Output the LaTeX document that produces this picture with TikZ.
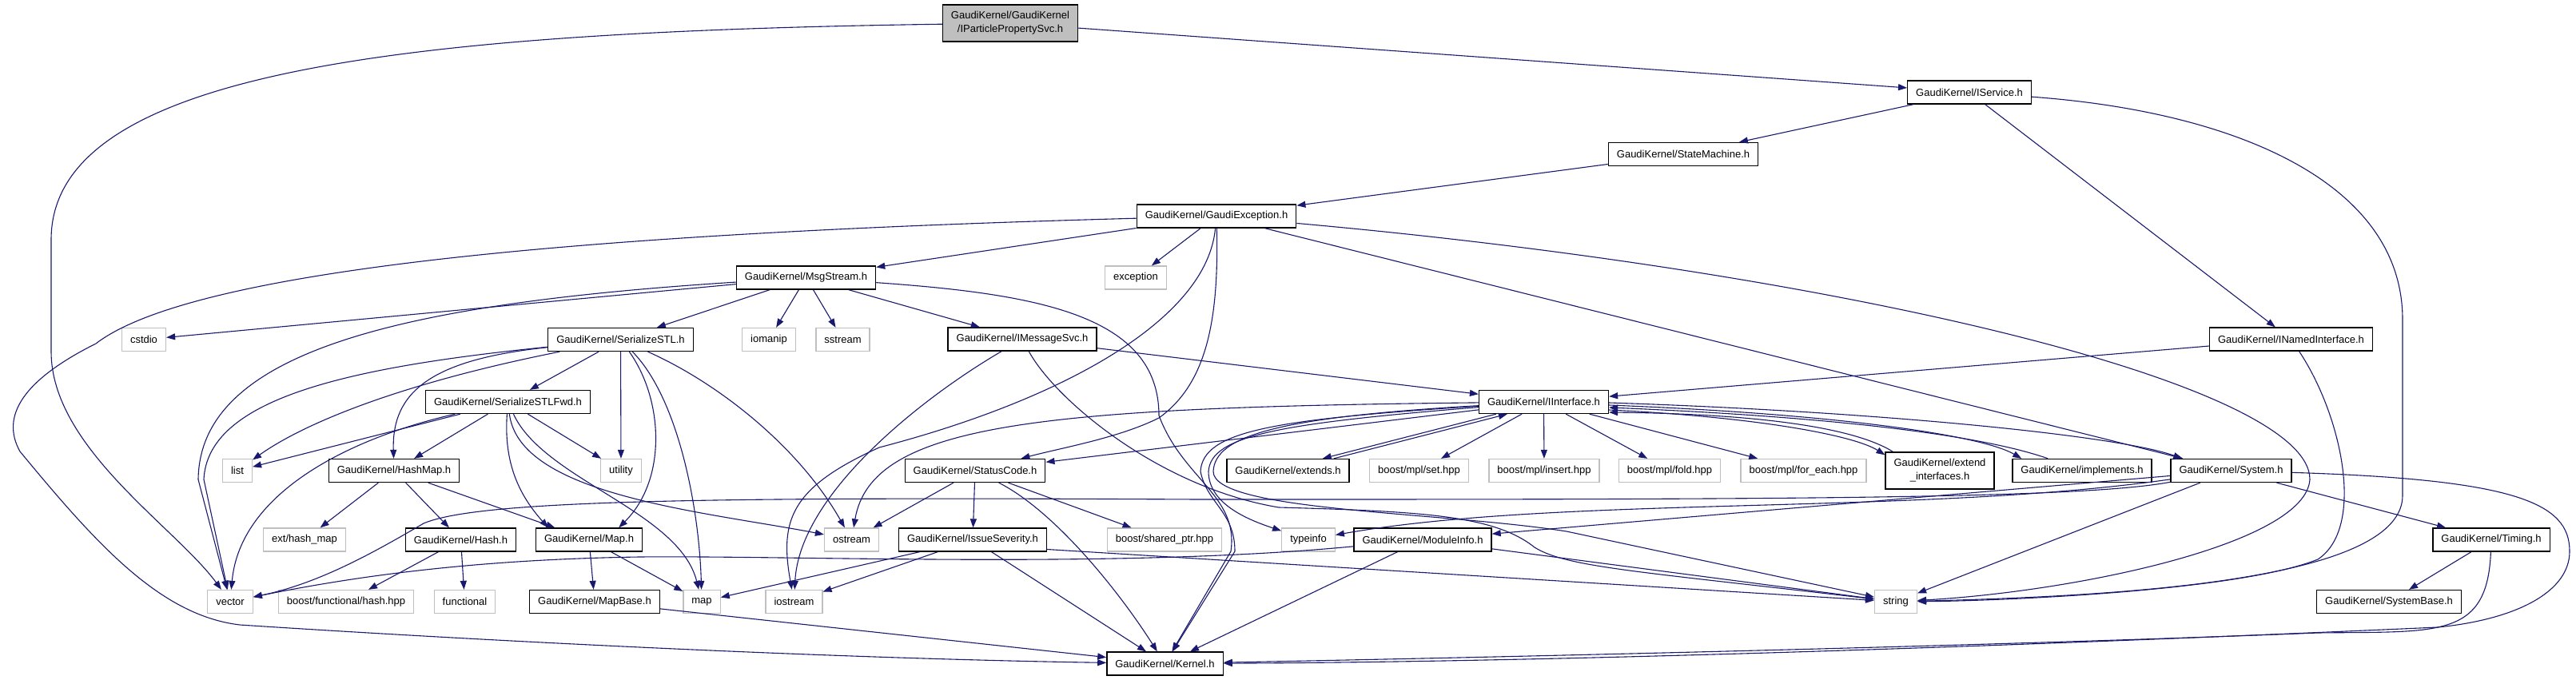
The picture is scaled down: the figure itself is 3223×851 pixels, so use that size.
\documentclass[tikz,border=0pt]{standalone}
\usepackage{fontspec}
\setmainfont{Liberation Sans}
\usetikzlibrary{arrows.meta}
\definecolor{midnightblue}{HTML}{191970}
\definecolor{grey75}{HTML}{BFBFBF}
\tikzset{
  hfile/.style={draw=black, fill=white, line width=1.3pt, inner xsep=10.5pt, inner ysep=2pt,
    minimum height=29pt, align=center, font=\fontsize{13}{17}\selectfont},
  sysfile/.style={hfile, draw=grey75},
  rootfile/.style={hfile, fill=grey75, minimum height=46pt},
  dep/.style={draw=midnightblue, line width=1.1pt, -{Triangle[length=11pt,width=8pt]}}
}
\begin{document}
\begin{tikzpicture}[x=1pt,y=-1pt]
    %% page
    \fill[white] (0,0) rectangle (3223,851);
    \useasboundingbox (0,0) rectangle (3223,851);
    %% header files, row by row
    \node[rootfile] (ipps) at (1264,29) {GaudiKernel/GaudiKernel\\/IParticlePropertySvc.h};
    \node[hfile] (iservice) at (2464,115.5) {GaudiKernel/IService.h};
    \node[hfile] (statemachine) at (2106,193) {GaudiKernel/StateMachine.h};
    \node[hfile] (gexc) at (1522,270.5) {GaudiKernel/GaudiException.h};
    \node[hfile] (msgstream) at (1008.5,347.5) {GaudiKernel/MsgStream.h};
    \node[sysfile] (exception) at (1421,347.5) {exception};
    \node[sysfile] (cstdio) at (180,425) {cstdio};
    \node[hfile] (serstl) at (776.5,425) {GaudiKernel/SerializeSTL.h};
    \node[sysfile] (iomanip) at (962,425) {iomanip};
    \node[sysfile] (sstream) at (1054.5,425) {sstream};
    \node[hfile] (imsgsvc) at (1279,424.5) {GaudiKernel/IMessageSvc.h};
    \node[hfile] (inamed) at (2866.5,424.5) {GaudiKernel/INamedInterface.h};
    \node[hfile] (serfwd) at (635.5,503) {GaudiKernel/SerializeSTLFwd.h};
    \node[hfile] (iiface) at (1931.5,503) {GaudiKernel/IInterface.h};
    %% row 5
    \node[sysfile] (list) at (297,589) {list};
    \node[hfile] (hashmap) at (493,589) {GaudiKernel/HashMap.h};
    \node[sysfile] (utility) at (777,589) {utility};
    \node[hfile] (statuscode) at (1220,589) {GaudiKernel/StatusCode.h};
    \node[hfile] (extends) at (1611.5,589) {GaudiKernel/extends.h};
    \node[sysfile] (mplset) at (1775.5,589) {boost/mpl/set.hpp};
    \node[sysfile] (mplinsert) at (1932,589) {boost/mpl/insert.hpp};
    \node[sysfile] (mplfold) at (2089,589) {boost/mpl/fold.hpp};
    \node[sysfile] (mplforeach) at (2256.5,589) {boost/mpl/for\_each.hpp};
    \node[hfile,minimum height=46pt] (extiface) at (2427,589) {GaudiKernel/extend\\\_interfaces.h};
    \node[hfile] (implements) at (2605,589) {GaudiKernel/implements.h};
    \node[hfile] (system) at (2791.5,589) {GaudiKernel/System.h};
    %% row 6
    \node[sysfile] (exthashmap) at (381,675.5) {ext/hash\_map};
    \node[hfile] (hash) at (576.5,675.5) {GaudiKernel/Hash.h};
    \node[hfile] (gkmap) at (737,675.5) {GaudiKernel/Map.h};
    \node[sysfile] (ostream) at (1065.5,675.5) {ostream};
    \node[hfile] (severity) at (1217,675.5) {GaudiKernel/IssueSeverity.h};
    \node[sysfile] (sharedptr) at (1457,675.5) {boost/shared\_ptr.hpp};
    \node[sysfile] (typeinfo) at (1637,675.5) {typeinfo};
    \node[hfile] (moduleinfo) at (1780,675.5) {GaudiKernel/ModuleInfo.h};
    \node[hfile] (timing) at (3117,675.5) {GaudiKernel/Timing.h};
    %% row 7
    \node[sysfile] (stdvector) at (288,753) {vector};
    \node[sysfile] (hashhpp) at (433,753) {boost/functional/hash.hpp};
    \node[sysfile] (functional) at (581.5,753) {functional};
    \node[hfile] (mapbase) at (744,753) {GaudiKernel/MapBase.h};
    \node[sysfile] (stdmap) at (878,753) {map};
    \node[sysfile] (iostream) at (993.5,753) {iostream};
    \node[sysfile] (stdstring) at (2372,753) {string};
    \node[hfile] (systembase) at (2989,753) {GaudiKernel/SystemBase.h};
    \node[hfile] (kernel) at (1457.5,830.5) {GaudiKernel/Kernel.h};

    %% root file
    \draw[dep] (ipps) -- (iservice);
    \draw[dep] (ipps) .. controls (500,40) and (64,90) .. (64,300) -- (64,440) .. controls (64,560) and (220,660) .. (stdvector);
    %% IService
    \draw[dep] (iservice) -- (statemachine);
    \draw[dep] (iservice) -- (inamed);
    \draw[dep] (iservice) .. controls (2800,140) and (3006,230) .. (3006,400) -- (3006,620) .. controls (3006,720) and (2700,745) .. (stdstring);
    %% StateMachine
    \draw[dep] (statemachine) -- (gexc);
    %% GaudiException
    \draw[dep] (gexc) -- (msgstream);
    \draw[dep] (gexc) -- (exception);
    \draw[dep] (gexc) .. controls (1525,400) and (1510,480) .. (1450,523) .. controls (1400,548) and (1330,560) .. (statuscode);
    \draw[dep] (gexc) .. controls (1510,400) and (1330,500) .. (1100,560) .. controls (990,610) and (975,650) .. (iostream);
    \draw[dep] (gexc) .. controls (800,290) and (250,330) .. (120,430) .. controls (30,475) and (0,520) .. (25,565) .. controls (120,680) and (200,770) .. (300,782) .. controls (700,808) and (1100,825) .. (kernel);
    \draw[dep] (gexc) -- (system);
    \draw[dep] (gexc) .. controls (2300,340) and (2890,480) .. (2890,600) .. controls (2885,680) and (2600,740) .. (stdstring);
    %% MsgStream
    \draw[dep] (msgstream) -- (cstdio);
    \draw[dep] (msgstream) .. controls (500,380) and (250,440) .. (248,600) -- (stdvector);
    \draw[dep] (msgstream) -- (serstl);
    \draw[dep] (msgstream) -- (iomanip);
    \draw[dep] (msgstream) -- (sstream);
    \draw[dep] (msgstream) -- (imsgsvc);
    \draw[dep] (msgstream) .. controls (1300,368) and (1450,395) .. (1450,520) .. controls (1480,600) and (1550,620) .. (1540,690) -- (kernel);
    %% IMessageSvc
    \draw[dep] (imsgsvc) -- (iiface);
    \draw[dep] (imsgsvc) .. controls (1150,500) and (1000,620) .. (iostream);
    \draw[dep] (imsgsvc) .. controls (1320,500) and (1450,610) .. (1600,635) .. controls (1780,640) and (1870,645) .. (1920,685) .. controls (1960,710) and (2050,715) .. (stdstring);
    %% SerializeSTL
    \draw[dep] (serstl) .. controls (430,460) and (260,500) .. (255,600) -- (stdvector);
    \draw[dep] (serstl) .. controls (500,480) and (380,530) .. (list);
    \draw[dep] (serstl) -- (serfwd);
    \draw[dep] (serstl) .. controls (540,450) and (490,490) .. (hashmap);
    \draw[dep] (serstl) -- (utility);
    \draw[dep] (serstl) .. controls (830,500) and (835,600) .. ([xshift=-30pt]gkmap.north east);
    \draw[dep] (serstl) .. controls (850,500) and (875,640) .. (stdmap);
    \draw[dep] (serstl) .. controls (900,480) and (1000,560) .. (ostream);
    %% SerializeSTLFwd
    \draw[dep] (serfwd) -- (list);
    \draw[dep] (serfwd) .. controls (430,550) and (300,620) .. (stdvector);
    \draw[dep] (serfwd) -- (hashmap);
    \draw[dep] (serfwd) .. controls (630,580) and (650,620) .. ([xshift=16pt]gkmap.north west);
    \draw[dep] (serfwd) .. controls (680,600) and (850,640) .. (stdmap);
    \draw[dep] (serfwd) .. controls (650,620) and (880,640) .. (ostream);
    \draw[dep] (serfwd) -- (utility);
    %% HashMap, Hash, Map, MapBase
    \draw[dep] (hashmap) -- (exthashmap);
    \draw[dep] (hashmap) -- (hash);
    \draw[dep] (hashmap) -- (gkmap);
    \draw[dep] (hash) -- (hashhpp);
    \draw[dep] (hash) -- (functional);
    \draw[dep] (gkmap) -- (mapbase);
    \draw[dep] (gkmap) -- (stdmap);
    \draw[dep] (mapbase) -- (kernel);
    %% IInterface
    \draw[dep] (iiface) .. controls (1300,510) and (1090,530) .. (ostream);
    \draw[dep] (iiface) -- (statuscode);
    \draw[dep] ([xshift=22pt]iiface.south west) -- ([xshift=-34pt]extends.north east);
    \draw[dep] (iiface) -- (mplset);
    \draw[dep] (iiface) -- (mplinsert);
    \draw[dep] (iiface) -- (mplfold);
    \draw[dep] (iiface) -- (mplforeach);
    \draw[dep] ([yshift=-10pt]iiface.east) .. controls (2200,522) and (2320,545) .. ([yshift=-4pt]extiface.north west);
    \draw[dep] ([yshift=-4pt]iiface.east) .. controls (2300,518) and (2480,545) .. ([xshift=12pt]implements.north west);
    \draw[dep] ([yshift=-1pt]iiface.east) .. controls (2350,515) and (2650,545) .. ([xshift=15pt]system.north west);
    \draw[dep] (iiface) .. controls (1600,530) and (1515,545) .. (1512,590) .. controls (1512,630) and (1560,650) .. (typeinfo);
    \draw[dep] (iiface) .. controls (1590,525) and (1505,540) .. (1502,590) .. controls (1510,630) and (1545,640) .. (1545,690) -- (kernel);
    \draw[dep] (iiface) .. controls (1600,522) and (1520,545) .. (1518,590) .. controls (1518,640) and (1800,640) .. (1960,665) -- (stdstring);
    %% back to IInterface
    \draw[dep] ([xshift=-20pt]extends.north east) -- ([xshift=36pt]iiface.south west);
    \draw[dep] ([xshift=10pt]extiface.north west) .. controls (2320,535) and (2200,518) .. ([yshift=-13pt]iiface.east);
    \draw[dep] ([xshift=45pt]implements.north west) .. controls (2480,545) and (2300,522) .. ([yshift=-7pt]iiface.east);
    %% StatusCode
    \draw[dep] (statuscode) -- (ostream);
    \draw[dep] (statuscode) -- (severity);
    \draw[dep] (statuscode) -- (sharedptr);
    \draw[dep] (statuscode) .. controls (1320,640) and (1400,740) .. (kernel);
    %% IssueSeverity
    \draw[dep] (severity) -- (stdmap);
    \draw[dep] (severity) -- (iostream);
    \draw[dep] (severity) -- (kernel);
    \draw[dep] ([yshift=-12pt]severity.east) -- (stdstring);
    %% ModuleInfo
    \draw[dep] (moduleinfo) .. controls (1400,712) and (1000,695) .. (800,697) .. controls (600,700) and (450,720) .. (stdvector);
    \draw[dep] (moduleinfo) -- (kernel);
    \draw[dep] (moduleinfo) -- (stdstring);
    %% System
    \draw[dep] (system) .. controls (2600,625) and (2200,625) .. (1500,625) .. controls (900,622) and (600,625) .. (530,655) .. controls (470,690) and (400,730) .. (stdvector);
    \draw[dep] (system) .. controls (2400,645) and (1950,620) .. (typeinfo);
    \draw[dep] (system) -- (moduleinfo);
    \draw[dep] (system) -- (stdstring);
    \draw[dep] (system) -- (timing);
    \draw[dep] (system) .. controls (3150,600) and (3215,630) .. (3215,690) .. controls (3215,740) and (3150,775) .. (3050,785) .. controls (2600,805) and (2000,828) .. (kernel);
    %% Timing
    \draw[dep] (timing) -- (systembase);
    \draw[dep] (timing) .. controls (3112,800) and (3050,790) .. (2900,792) .. controls (2500,808) and (1900,822) .. (kernel);
    %% INamedInterface
    \draw[dep] (inamed) -- (iiface);
    \draw[dep] (inamed) .. controls (2930,520) and (2960,660) .. (2900,700) .. controls (2800,740) and (2500,752) .. (stdstring);
\end{tikzpicture}
\end{document}
